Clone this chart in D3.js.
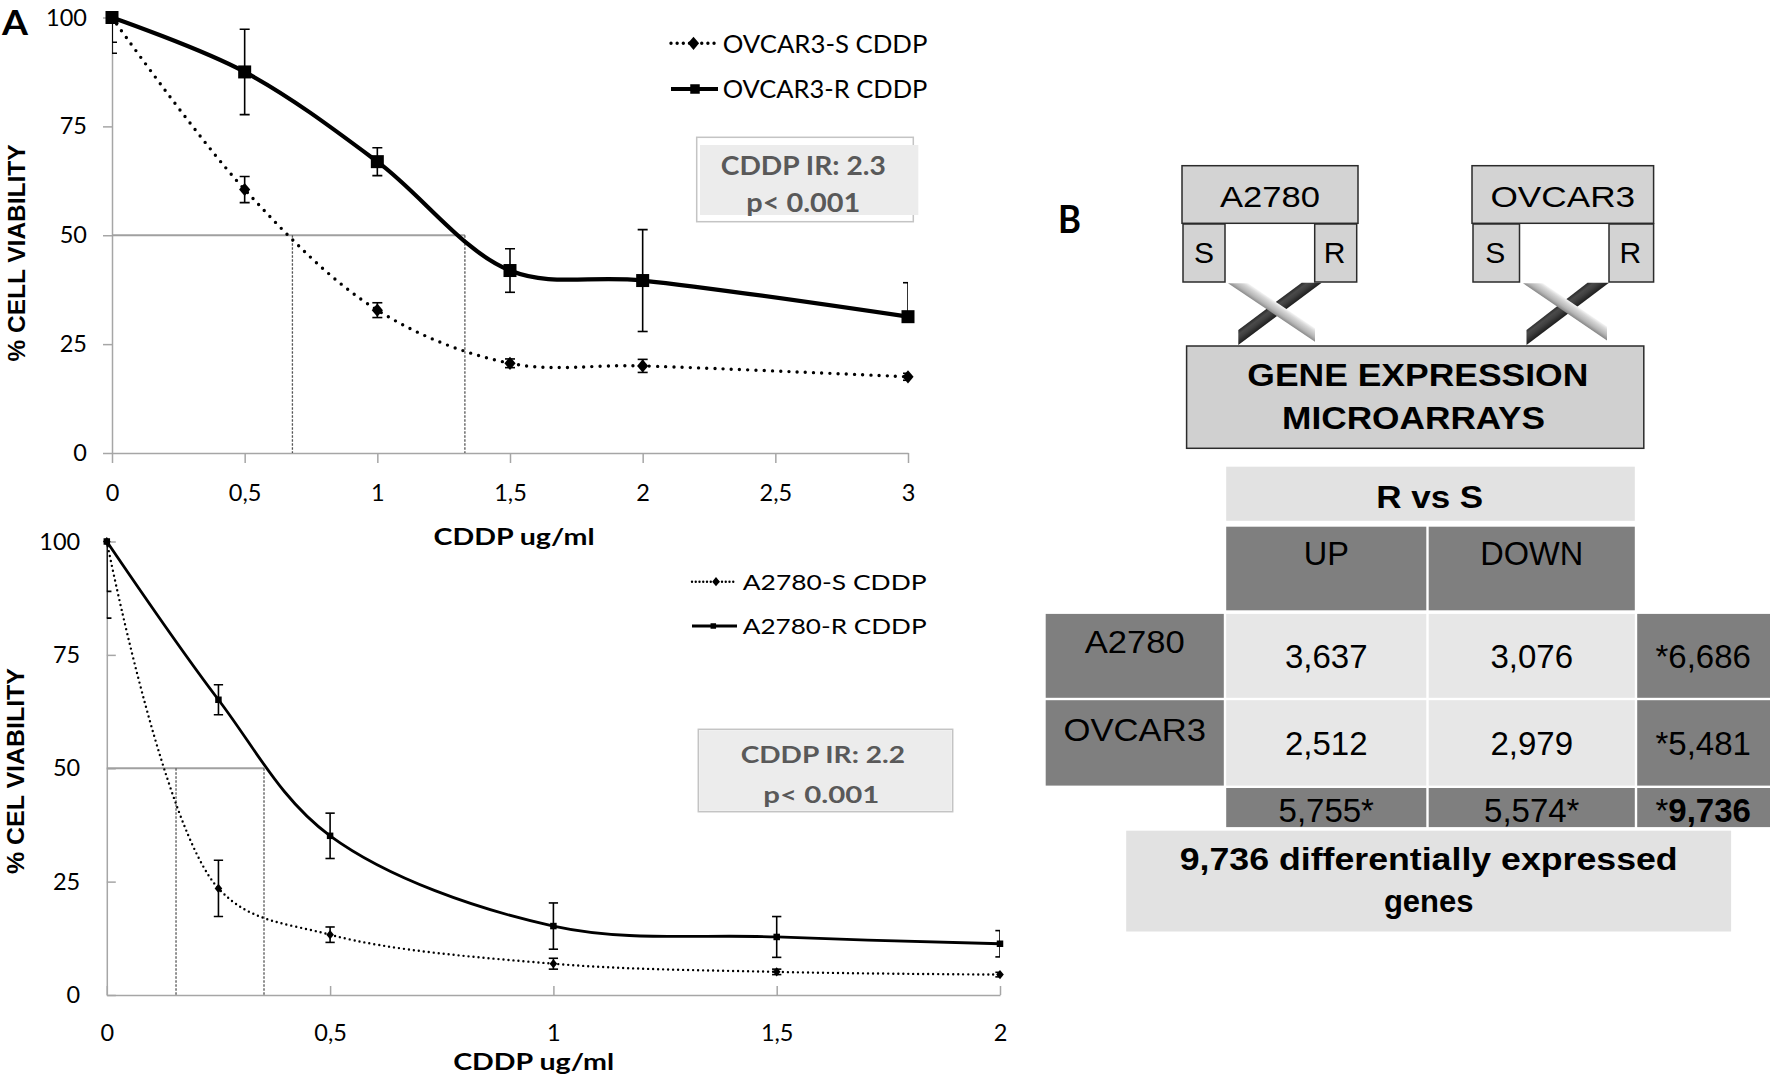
<!DOCTYPE html>
<html><head><meta charset="utf-8">
<script src="https://cdn.jsdelivr.net/npm/d3@7"></script>
<style>body{margin:0;background:#fff}svg{display:block}</style>
</head><body>
<svg id="fig" width="1770" height="1078"></svg>
<script>
// ---------------- DATA ----------------
// Panel A (top): OVCAR3
const ovcarDose = [0, 0.5, 1, 1.5, 2, 3];
const ovcarS = [100, 60.5, 32.8, 20.6, 20.0, 17.5];
const ovcarSErr = [8.2, 3.0, 1.7, 1.0, 1.5, 0.8];
const ovcarR = [100, 87.5, 66.9, 41.9, 39.6, 31.3];
const ovcarRErrUp = [5.7, 9.8, 3.2, 5.0, 11.7, 7.8];
const ovcarRErrDown = [5.7, 9.8, 3.2, 5.0, 11.7, 0];
const ovcarIC50 = [0.68, 1.33];
// Panel A (bottom): A2780
const a2780Dose = [0, 0.25, 0.5, 1, 1.5, 2];
const a2780S = [100, 23.5, 13.3, 6.9, 5.1, 4.5];
const a2780SErr = [16.9, 6.2, 1.7, 1.2, 0.6, 0.5];
const a2780R = [100, 65.1, 35.1, 15.2, 12.8, 11.3];
const a2780RErr = [11.0, 3.3, 5.0, 5.1, 4.5, 2.9];
const a2780IC50 = [0.155, 0.352];
// ticks
const xTicksTop = [0, 0.5, 1, 1.5, 2, 2.5, 3];
const xTicksBottom = [0, 0.5, 1, 1.5, 2];
const yTicks = [0, 25, 50, 75, 100];
// Panel B table
const cellLines = ["A2780", "OVCAR3"];
const tableCols = ["UP", "DOWN"];
const upCounts = [3637, 2512];
const downCounts = [3076, 2979];
const rowTotals = [6686, 5481];
const colTotals = [5755, 5574];
const grandTotal = 9736;

// ---------------- HELPERS ----------------
const svg = d3.select("#fig");
const LATO = "Lato, 'Open Sans', sans-serif";
const ARIAL = "'Liberation Sans', Arial, sans-serif";
const commaDec = d => String(d).replace(".", ",");
const fmt = d3.format(",");

function txt(g, s, x, y, o) {
  const t = g.append("text").attr("x", x).attr("y", y).text(s)
    .attr("font-family", o.font || LATO).attr("font-size", o.size)
    .attr("font-weight", o.bold ? "bold" : "normal")
    .attr("fill", o.fill || "#000")
    .attr("text-anchor", o.anchor || "middle");
  if (o.len) t.attr("textLength", o.len).attr("lengthAdjust", "spacingAndGlyphs");
  if (o.rot) t.attr("transform", `rotate(${o.rot},${x},${y})`);
  return t;
}
const diamond = (w, h) => `M0,${-h}L${w},0L0,${h}L${-w},0Z`;

// ---------------- PANEL A CHARTS ----------------
function drawChart(c) {
  const g = svg.append("g");
  const x = d3.scaleLinear().domain([0, c.xmax]).range([c.x0, c.x1]);
  const y = d3.scaleLinear().domain([0, 100]).range([c.y0, c.y1]);
  const clipId = "clip" + c.id;
  svg.append("clipPath").attr("id", clipId).append("rect")
    .attr("x", x(0)).attr("y", y(100)).attr("width", x(c.xmax) - x(0)).attr("height", y(0) - y(100));

  // axes
  const ax = d3.axisBottom(x).tickValues(c.xTicks).tickFormat(commaDec)
    .tickSize(c.inward ? -9 : 10).tickSizeOuter(0).tickPadding(c.xPad);
  const ay = d3.axisLeft(y).tickValues(yTicks).tickSize(c.inward ? -9 : 9)
    .tickSizeOuter(0).tickPadding(c.yPad);
  [g.append("g").attr("transform", `translate(0,${y(0)})`).call(ax),
   g.append("g").attr("transform", `translate(${x(0)},0)`).call(ay)].forEach(a => {
    a.selectAll("path,line").attr("stroke", "#a6a6a6").attr("stroke-width", 1.5);
    a.selectAll("text").attr("font-family", LATO).attr("font-size", c.tickFont).attr("fill", "#000");
  });

  // IC50 guides
  g.append("line").attr("x1", x(0)).attr("x2", x(c.ic50[1])).attr("y1", y(50)).attr("y2", y(50))
    .attr("stroke", "#a0a0a0").attr("stroke-width", 1.8);
  c.ic50.forEach(v => g.append("line").attr("x1", x(v)).attr("x2", x(v)).attr("y1", y(50)).attr("y2", y(0))
    .attr("stroke", "#555").attr("stroke-width", 1.3).attr("stroke-dasharray", "2.5 1.5"));

  const line = d3.line().x(d => x(d[0])).y(d => y(d[1])).curve(d3.curveCatmullRom.alpha(0.5));
  const sPts = c.dose.map((d, i) => [d, c.s[i]]);
  const rPts = c.dose.map((d, i) => [d, c.r[i]]);
  g.append("path").attr("d", line(sPts)).attr("fill", "none").attr("stroke", "#000")
    .attr("stroke-width", c.dotW).attr("stroke-linecap", "round").attr("stroke-dasharray", `0 ${c.dotGap}`);
  g.append("path").attr("d", line(rPts)).attr("fill", "none").attr("stroke", "#000")
    .attr("stroke-width", c.lineW);

  // error bars
  const eg = g.append("g").attr("clip-path", `url(#${clipId})`).attr("stroke", "#000").attr("stroke-width", 1.6);
  function bars(vals, up, dn) {
    c.dose.forEach((d, i) => {
      const xp = x(d), yt = y(vals[i] + up[i]), yb = y(vals[i] - dn[i]);
      eg.append("line").attr("x1", xp).attr("x2", xp).attr("y1", yt).attr("y2", yb);
      if (up[i] > 0) eg.append("line").attr("x1", xp - c.capW / 2).attr("x2", xp + c.capW / 2).attr("y1", yt).attr("y2", yt);
      if (dn[i] > 0) eg.append("line").attr("x1", xp - c.capW / 2).attr("x2", xp + c.capW / 2).attr("y1", yb).attr("y2", yb);
    });
  }
  bars(c.s, c.sErr, c.sErr);
  bars(c.r, c.rErrUp, c.rErrDown);

  // markers
  g.selectAll(null).data(sPts).join("path").attr("d", diamond(c.diaW, c.diaH))
    .attr("transform", d => `translate(${x(d[0])},${y(d[1])})`).attr("fill", "#000");
  g.selectAll(null).data(rPts).join("rect")
    .attr("x", d => x(d[0]) - c.sq / 2).attr("y", d => y(d[1]) - c.sq / 2)
    .attr("width", c.sq).attr("height", c.sq).attr("fill", "#000");

  // legend
  const L = c.legend;
  g.append("line").attr("x1", L.x0).attr("x2", L.x1).attr("y1", L.y[0]).attr("y2", L.y[0])
    .attr("stroke", "#000").attr("stroke-width", c.dotW).attr("stroke-linecap", "round")
    .attr("stroke-dasharray", `0 ${c.dotGap * 0.75}`);
  g.append("path").attr("d", diamond(c.diaW, c.diaH)).attr("transform", `translate(${L.mS},${L.y[0]})`);
  g.append("line").attr("x1", L.x0).attr("x2", L.x1).attr("y1", L.y[1]).attr("y2", L.y[1])
    .attr("stroke", "#000").attr("stroke-width", c.lineW);
  g.append("rect").attr("x", L.mR - L.sq / 2).attr("y", L.y[1] - L.sq / 2).attr("width", L.sq).attr("height", L.sq);
  L.labels.forEach((s, i) => txt(g, s, L.tx, L.y[i] + L.off, { size: L.size, anchor: "start", len: L.len }));

  // IR box
  const B = c.box;
  g.append("rect").attr("x", B.x).attr("y", B.y).attr("width", B.w).attr("height", B.h)
    .attr("fill", "#fff").attr("stroke", "#c4c4c4").attr("stroke-width", 1.5);
  g.append("rect").attr("x", B.fx).attr("y", B.fy).attr("width", B.fw).attr("height", B.fh).attr("fill", "#ececec");
  B.lines.forEach(l => txt(g, l.t, l.x, l.y, { size: B.size, bold: true, fill: "#595959", len: l.len }));

  // titles
  txt(g, "CDDP ug/ml", c.xTitle[0], c.xTitle[1], { size: 22, bold: true, len: 161 });
  txt(g, c.yTitle, c.yTitlePos[0], c.yTitlePos[1], { font: ARIAL, size: 24.5, bold: true, rot: -90, len: c.yTitleLen });
}

drawChart({
  id: "top", x0: 112, x1: 908, y0: 453, y1: 17.5, xmax: 3, xTicks: xTicksTop, inward: false,
  xPad: 21, yPad: 16, tickFont: 23.5,
  dose: ovcarDose, s: ovcarS, sErr: ovcarSErr, r: ovcarR, rErrUp: ovcarRErrUp, rErrDown: ovcarRErrDown,
  ic50: ovcarIC50, lineW: 4.2, dotW: 3.4, dotGap: 8.2, capW: 10, diaW: 5.6, diaH: 6.6, sq: 13,
  legend: { x0: 671, x1: 718, mS: 693.5, mR: 695, sq: 9.5, y: [43.3, 89], tx: 722.7, off: 9.2, size: 25.5, len: 204.7,
    labels: ["OVCAR3-S CDDP", "OVCAR3-R CDDP"] },
  box: { x: 696.7, y: 137.3, w: 216.6, h: 84.4, fx: 700, fy: 145, fw: 218.3, fh: 70, size: 27.5,
    lines: [{ t: "CDDP IR: 2.3", x: 803.3, y: 175, len: 165 }, { t: "p< 0.001", x: 803.3, y: 211.7, len: 114 }] },
  xTitle: [514, 545], yTitle: "% CELL VIABILITY", yTitlePos: [25, 253], yTitleLen: 217
});

drawChart({
  id: "bot", x0: 106.8, x1: 1000, y0: 995, y1: 541.5, xmax: 2, xTicks: xTicksBottom, inward: true,
  xPad: 29, yPad: 26.6, tickFont: 23.5,
  dose: a2780Dose, s: a2780S, sErr: a2780SErr, r: a2780R, rErrUp: a2780RErr, rErrDown: a2780RErr,
  ic50: a2780IC50, lineW: 2.8, dotW: 2.4, dotGap: 5, capW: 9.3, diaW: 3.8, diaH: 4.6, sq: 6.5,
  legend: { x0: 692, x1: 737, mS: 716, mR: 713.3, sq: 5.5, y: [581.7, 626], tx: 742.7, off: 8, size: 22, len: 184,
    labels: ["A2780-S CDDP", "A2780-R CDDP"] },
  box: { x: 698.3, y: 729.3, w: 254.4, h: 82.4, fx: 699.3, fy: 730.3, fw: 252.4, fh: 80.4, size: 23.5,
    lines: [{ t: "CDDP IR: 2.2", x: 822.8, y: 763.3, len: 164.3 }, { t: "p< 0.001", x: 821.3, y: 803.3, len: 116 }] },
  xTitle: [533.7, 1070], yTitle: "% CEL VIABILITY", yTitlePos: [23.5, 771], yTitleLen: 206
});

// panel letters
txt(svg, "A", 2, 35, { size: 34, bold: true, anchor: "start", len: 26 });
txt(svg, "B", 1058, 233, { size: 38, bold: true, anchor: "start", len: 23 });

// ---------------- PANEL B DIAGRAM ----------------
const gb = svg.append("g");
const defs = svg.append("defs");
const blocks = [
  { name: cellLines[0], box: [1182, 165.7, 176, 57.6], s: [1183, 42], r: [1314.7, 42], sx: 1203.9, rx: 1334.7,
    dark: [[1301.7, 282.7], [1321.7, 282.7], [1238.3, 345], [1238.3, 330]],
    light: [[1228, 283.3], [1248, 283.3], [1315, 328.3], [1315, 341.7]] },
  { name: cellLines[1], box: [1472, 165.7, 181.6, 57.6], s: [1473, 46.5], r: [1609, 44.6], sx: 1495.3, rx: 1630.3,
    dark: [[1587.5, 282.7], [1609, 282.7], [1526.5, 345], [1526.5, 330]],
    light: [[1523, 283.3], [1543, 283.3], [1607, 326.5], [1607, 340.5]] }
];
function ribbon(pts, stops, id) {
  const dx = pts[2][0] - pts[1][0], dy = pts[2][1] - pts[1][1];
  const len = Math.hypot(dx, dy);
  const nx = -dy / len, ny = dx / len;
  const off = (pts[0][0] - pts[1][0]) * nx + (pts[0][1] - pts[1][1]) * ny;
  const gr = defs.append("linearGradient").attr("id", id).attr("gradientUnits", "userSpaceOnUse")
    .attr("x1", pts[1][0]).attr("y1", pts[1][1]).attr("x2", pts[1][0] + nx * off).attr("y2", pts[1][1] + ny * off);
  stops.forEach(s => gr.append("stop").attr("offset", s[0]).attr("stop-color", s[1]));
  gb.append("path").attr("d", "M" + pts.map(p => p.join(",")).join("L") + "Z").attr("fill", `url(#${id})`);
}
blocks.forEach((b, i) => {
  ribbon(b.dark, [[0, "#1e1e1e"], [0.45, "#404040"], [0.7, "#4a4a4a"], [1, "#2a2a2a"]], "dk" + i);
  ribbon(b.light, [[0, "#f6f6f6"], [0.25, "#d8d8d8"], [0.7, "#b4b4b4"], [1, "#8a8a8a"]], "lt" + i);
  const [bx, by, bw, bh] = b.box;
  gb.append("rect").attr("x", bx).attr("y", by).attr("width", bw).attr("height", bh)
    .attr("fill", "#d3d3d3").attr("stroke", "#2b2b2b").attr("stroke-width", 1.5);
  [b.s, b.r].forEach(sr => gb.append("rect").attr("x", sr[0]).attr("y", 224).attr("width", sr[1]).attr("height", 58)
    .attr("fill", "#d3d3d3").attr("stroke", "#2b2b2b").attr("stroke-width", 1.5));
  txt(gb, b.name, bx + bw / 2, 206.7, { font: ARIAL, size: 30, len: i === 0 ? 100 : 144.6 });
  txt(gb, "S", b.sx, 263.3, { font: ARIAL, size: 30 });
  txt(gb, "R", b.rx, 263.3, { font: ARIAL, size: 30 });
});
gb.append("rect").attr("x", 1186.6).attr("y", 346).attr("width", 457.2).attr("height", 102.3)
  .attr("fill", "#d0d0d0").attr("stroke", "#2b2b2b").attr("stroke-width", 1.5);
txt(gb, "GENE EXPRESSION", 1417.8, 386, { font: ARIAL, size: 31, bold: true, len: 341 });
txt(gb, "MICROARRAYS", 1413.6, 429.3, { font: ARIAL, size: 31, bold: true, len: 263 });

// ---------------- PANEL B TABLE ----------------
const DARK = "#7f7f7f", LIGHT = "#e7e7e7", PALE = "#e2e2e2";
const colEdges = [1044.5, 1225, 1427.5, 1636, 1770];   // label | UP | DOWN | total
const rowEdges = [612.7, 699, 786.8, 828.3];          // A2780 | OVCAR3 | totals
const gap = 1.2;
const cell = (x0, x1, y0, y1, f) => gb.append("rect").attr("x", x0 + gap).attr("y", y0 + gap)
  .attr("width", x1 - x0 - 2 * gap).attr("height", y1 - y0 - 2 * gap).attr("fill", f);
const cx = i => (colEdges[i] + colEdges[i + 1]) / 2;

cell(colEdges[1], colEdges[3], 465.5, 522, PALE);
txt(gb, "R vs S", 1429.7, 508.3, { font: ARIAL, size: 32, bold: true, len: 107 });
tableCols.forEach((t, j) => {
  cell(colEdges[j + 1], colEdges[j + 2], 525.5, 611.5, DARK);
  txt(gb, t, cx(j + 1), 565, { font: ARIAL, size: 32.5 });
});
const rowLabelBase = [653.3, 740.7], rowValBase = [668.3, 755];
cellLines.forEach((name, i) => {
  const y0 = rowEdges[i], y1 = rowEdges[i + 1];
  cell(colEdges[0], colEdges[1], y0, y1, DARK);
  cell(colEdges[1], colEdges[2], y0, y1, LIGHT);
  cell(colEdges[2], colEdges[3], y0, y1, LIGHT);
  cell(colEdges[3], colEdges[4] + 5, y0, y1, DARK);
  txt(gb, name, cx(0), rowLabelBase[i], { font: ARIAL, size: 32, len: i === 0 ? 100 : 142.3 });
  txt(gb, fmt(upCounts[i]), cx(1), rowValBase[i], { font: ARIAL, size: 33 });
  txt(gb, fmt(downCounts[i]), cx(2), rowValBase[i], { font: ARIAL, size: 33 });
  txt(gb, "*" + fmt(rowTotals[i]), 1703.2, rowValBase[i], { font: ARIAL, size: 33 });
});
[0, 1].forEach(j => {
  cell(colEdges[j + 1], colEdges[j + 2], rowEdges[2], rowEdges[3], DARK);
  txt(gb, fmt(colTotals[j]) + "*", cx(j + 1), 821.7, { font: ARIAL, size: 33 });
});
cell(colEdges[3], colEdges[4] + 5, rowEdges[2], rowEdges[3], DARK);
const gt = txt(gb, "*", 1703.2, 821.7, { font: ARIAL, size: 33 });
gt.text(null);
gt.append("tspan").text("*");
gt.append("tspan").attr("font-weight", "bold").text(fmt(grandTotal));

cell(1125, 1732.3, 829.5, 932.7, PALE);
txt(gb, fmt(grandTotal) + " differentially expressed", 1428.7, 870, { font: ARIAL, size: 31, bold: true, len: 498 });
txt(gb, "genes", 1428.7, 911.7, { font: ARIAL, size: 31, bold: true });
</script>
</body></html>
